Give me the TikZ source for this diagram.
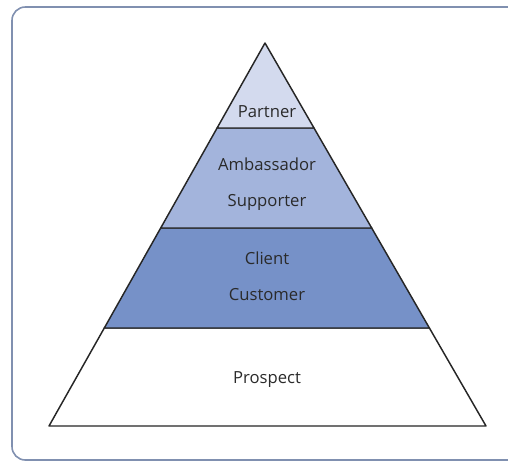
\documentclass[tikz,border=0pt]{standalone}
\usepackage{fontspec}
\setmainfont{Open Sans}
\definecolor{frameC}{HTML}{8090B0}
\definecolor{lay1}{HTML}{D3DAEE}
\definecolor{lay2}{HTML}{A3B4DC}
\definecolor{lay3}{HTML}{7691C8}
\definecolor{txt}{HTML}{2A2A2A}
\begin{document}
\begin{tikzpicture}[x=0.75pt,y=-0.75pt,
  layer/.style={draw=black!85, line width=1.1pt, line join=round},
  lab/.style={text=txt, font=\fontsize{12.5}{15}\selectfont, inner sep=0pt}]
\useasboundingbox (0,0) rectangle (508,462);
\begin{scope}
\clip (0,0) rectangle (508,462);
\draw[frameC, line width=1.2pt, rounded corners=10] (12,7) rectangle (530,460);
\end{scope}
% layers
\path[layer, fill=white] (104.3,328) -- (429.4,328) -- (486,426) -- (49,426) -- cycle;
\path[layer, fill=lay3] (160.7,228) -- (371.7,228) -- (429.4,328) -- (104.3,328) -- cycle;
\path[layer, fill=lay2] (217.1,128) -- (314,128) -- (371.7,228) -- (160.7,228) -- cycle;
\path[layer, fill=lay1] (265,43) -- (314,128) -- (217.1,128) -- cycle;
% labels
\node[lab] (partner) at (267,112) {Partner};
\node[lab] (amb) at (267,164) {Ambassador};
\node[lab] (sup) at (267,202) {Supporter};
\node[lab] (client) at (267,258) {Client};
\node[lab] (cust) at (267,295) {Customer};
\node[lab] (prospect) at (267,380) {Prospect};
\end{tikzpicture}
\end{document}
